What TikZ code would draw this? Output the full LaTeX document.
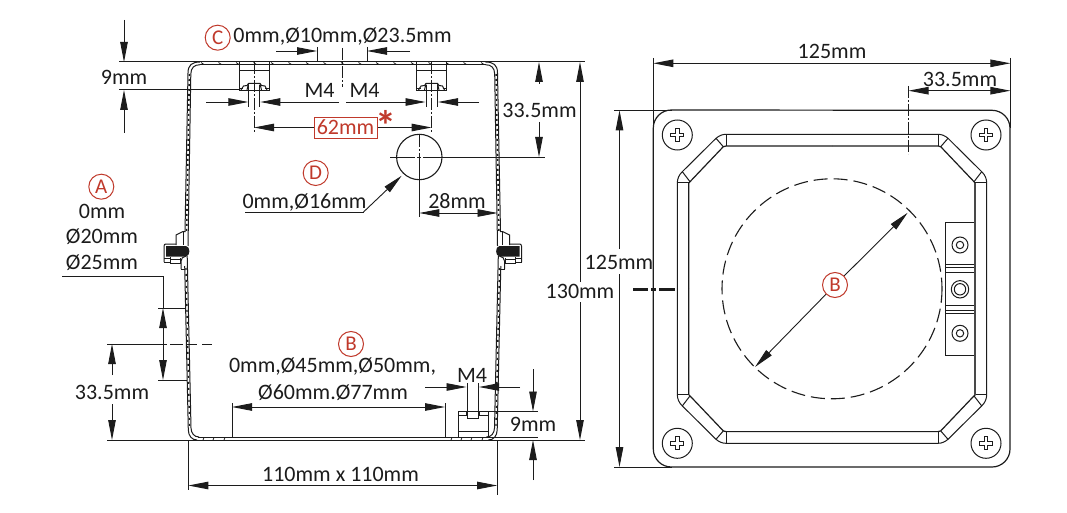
\documentclass[tikz,border=0pt]{standalone}
\usepackage{fontspec}
\setmainfont{Carlito}
\usetikzlibrary{arrows.meta}
\definecolor{ink}{HTML}{1C1C1C}
\definecolor{redmark}{HTML}{C0392B}
\tikzset{
  ln/.style={draw=ink,line width=1pt},
  thin ln/.style={draw=ink,line width=0.8pt},
  dim/.style={draw=ink,line width=0.9pt,-{Triangle[length=20pt,width=7.5pt,fill=ink]}},
  dimb/.style={draw=ink,line width=0.9pt,{Triangle[length=20pt,width=7.5pt,fill=ink]}-{Triangle[length=20pt,width=7.5pt,fill=ink]}},
  center ln/.style={draw=ink,line width=0.8pt,dash pattern=on 12pt off 2pt on 2pt off 2pt},
  lab/.style={font=\fontsize{22}{26}\selectfont,text=ink,inner sep=0pt},
  redc/.style={circle,draw=redmark,line width=1pt,fill=white,text=redmark,minimum size=25pt,inner sep=0pt,font=\fontsize{21}{24}\selectfont},
  screwhead/.style={circle,draw=ink,line width=1pt,minimum size=30pt,inner sep=0pt},
}
\newcommand{\halfwall}{%
  % upper wall
  \draw[ln] (200,62) .. controls (192,62) and (188,65) .. (188,73) -- (185,232);
  \draw[ln] (200,64.7) .. controls (194,64.7) and (191,68) .. (190.8,74) -- (188,246);
  \draw[draw=ink,line width=1.6pt,dash pattern=on 2pt off 3pt] (189.4,74) -- (186.6,232);
  % lower wall
  \draw[ln] (184.7,266) -- (188.3,430) .. controls (188.5,436) and (192,440) .. (197,440);
  \draw[ln] (187.2,256) -- (191,428) .. controls (191.2,433) and (194,437) .. (199,437);
  \draw[draw=ink,line width=1.4pt,dash pattern=on 2pt off 4pt] (186,268) -- (189.6,428);
  % clamp
  \draw[ln] (176,245) -- (176,235) -- (183,231.5) -- (185,231.5);
  \draw[ln] (183,231.5) -- (183,245);
  \draw[ln] (164,262) -- (164,246) .. controls (164,244.5) and (165,244) .. (166,244) -- (176,244);
  \fill[ink] (166,246) -- (186,246) .. controls (190.5,246.5) and (190.5,256) .. (186,256.5) -- (166,256.5) -- cycle;
  \draw[ln] (164,258) -- (170,258) (164,262) -- (170,262);
  \draw[ln] (170,257) -- (170,263.5) -- (180.5,263.5) -- (180.5,258) (170,259.5) -- (180.5,259.5);
  \draw[ln] (181,269) -- (181,261) .. controls (181,258) and (183,257) .. (186,256);
  \draw[ln] (181,269) -- (184.7,269);
}
\newcommand{\topinsert}{%
  \draw[thin ln] (239.3,62) -- (239.3,90) -- (269,90) -- (269,62);
  \draw[thin ln] (239.3,70) -- (269,70);
  \draw[ln] (241,90) -- (243.5,86) -- (247,85.5) -- (248.5,83.5) -- (260,83.5) -- (261.5,85.5) -- (265,86) -- (267,90);
  \draw[ln] (248.5,83.5) -- (247,90) (260,83.5) -- (261.5,90);
  \draw[ln] (239.3,88.5) -- (243,88.5) (265,88.5) -- (269,88.5);
}
\begin{document}
\begin{tikzpicture}[x=1pt,y=-1pt]
\useasboundingbox (0,0) rectangle (1067,513);
\fill[white] (0,0) rectangle (1067,513);

%% ---------- side view ----------
\draw[ln] (119,62) -- (585,62);
\draw[ln] (107,440) -- (585,440);
\draw[ln] (198,437) -- (538,437);
\halfwall
\begin{scope}[shift={(685.5,0)},xscale=-1]\halfwall\end{scope}
\draw[ln] (200,64.7) -- (485.5,64.7);
\foreach \i in {201,218.5,...,490} {\draw[thin ln] (\i,62.5) -- (\i+3,64.5);}
\foreach \i in {204,214,225,452,462,472,483} {\draw[thin ln] (\i,437.5) -- (\i-1,440);}

% top inserts
\topinsert
\begin{scope}[xshift=177.5pt]\topinsert\end{scope}
% bottom insert
\draw[thin ln] (458,437) -- (458,411) -- (488,411) -- (488,437);
\draw[thin ln] (458,431) -- (488,431);
\draw[ln] (458,415) -- (466,415) -- (466,411) (467,411) -- (467,418) -- (478,418) -- (478,411) (479,411) -- (479,415) -- (488,415);

% 9mm top
\draw[ln] (119,90) -- (240,90);
\draw[dim] (124,20) -- (124,62);
\draw[dim] (124,133) -- (124,90);
\node[lab] (t9a) at (124,77) {9mm};

% C
\node[redc] (labC) at (217.7,37.7) {C};
\node[lab] (tC) at (342.5,36.5) {0mm,Ø10mm,Ø23.5mm};
\draw[thin ln] (317,47) -- (317,62) (367,47) -- (367,62);
\draw[dim] (276,51) -- (317,51);
\draw[dim] (410,51) -- (367,51);
\draw[center ln] (342.7,48) -- (342.7,87);

% M4 top
\node[lab] (tM1) at (319.5,90) {M4};
\node[lab] (tM2) at (364.5,90) {M4};
\draw[center ln] (254,62) -- (254,132);
\draw[center ln] (431.6,62) -- (431.6,132);
\draw[thin ln] (248.7,85) -- (248.7,107) (259.7,85) -- (259.7,107);
\draw[thin ln] (426,85) -- (426,107) (437.3,85) -- (437.3,107);
\draw[dim] (206,102) -- (248.3,102);
\draw[dim] (339,102) -- (260.3,102);
\draw[dim] (346,102) -- (425.5,102);
\draw[dim] (479,102) -- (438,102);

% 62mm
\node[lab,draw=redmark,line width=0.8pt,text=redmark,minimum width=63pt,minimum height=21pt] (t62) at (345.5,127.5) {62mm};
\node[text=redmark,inner sep=0pt,font=\fontsize{42}{42}\selectfont\bfseries] (star) at (386,125) {*};
\draw[dim] (t62.west) -- (254,127.5);
\draw[dim] (378,127.5) -- (431.6,127.5);

% hole D
\node[circle,draw=ink,line width=1.1pt,minimum size=45.4pt,inner sep=0pt] (hole) at (419.3,157) {};
\draw[center ln] (419.3,135) -- (419.3,165);
\draw[thin ln] (419.3,160) -- (419.3,217);
\draw[thin ln] (390,157) -- (415,157) (417,157) -- (421,157) (423,157) -- (545,157);
\node[redc] (labD) at (315.7,173) {D};
\node[lab] (tD) at (304.5,202) {0mm,Ø16mm};
\coordinate (leadA) at (245,212);
\coordinate (leadB) at (363.5,212);
\draw[thin ln] (leadA) -- (leadB);
\draw[dim] (leadB) -- (401.7,175.7);
\node[lab] (t28) at (457,201.5) {28mm};
\draw[dimb] (419.3,213) -- (497.5,213);
% 33.5 right
\node[lab] (t335r) at (539.5,110) {33.5mm};
\draw[dim] (539,84) -- (539,62);
\draw[dim] (539,122) -- (539,157);
% 130
\node[lab] (t130) at (580,291) {130mm};
\draw[dim] (580,282) -- (580,62);
\draw[dim] (580,302) -- (580,440);

% A
\node[redc] (labA) at (101.3,186.7) {A};
\node[lab] (tA1) at (102,211) {0mm};
\node[lab] (tA2) at (102,236.5) {Ø20mm};
\node[lab] (tA3) at (102,262.5) {Ø25mm};
\draw[thin ln] (62,276) -- (163,276) -- (163,308);
\draw[thin ln] (158,308) -- (185,308) (158,380) -- (186.5,380);
\draw[dim] (163,344) -- (163,308);
\draw[dim] (163,344) -- (163,380);
\draw[thin ln] (107,344) -- (167,344);
\draw[thin ln,dash pattern=on 13pt off 4pt on 10pt off 5pt on 20pt] (170,344) -- (212,344);
\node[lab] (t335l) at (112,392) {33.5mm};
\draw[dim] (112,375) -- (112,344);
\draw[dim] (112,404) -- (112,440);

% B side
\node[redc] (labB) at (351,344) {B};
\node[lab] (tB1) at (332.5,367) {0mm,Ø45mm,Ø50mm,};
\node[lab] (tB2) at (333,392.5) {Ø60mm.Ø77mm};
\draw[thin ln] (232,403) -- (232,437) (445,403) -- (445,437);
\draw[dimb] (232,407) -- (445,407);

% M4 bottom + 9mm bottom
\node[lab] (tM3) at (472,375) {M4};
\draw[thin ln] (467,383) -- (467,411) (478.5,383) -- (478.5,411);
\draw[dim] (425,387) -- (466.5,387);
\draw[dim] (520,387) -- (479,387);
\draw[thin ln] (488,411.5) -- (538,411.5);
\node[lab] (t9b) at (533,424) {9mm};
\draw[dim] (533,369) -- (533,411.5);
\draw[dim] (533,480) -- (533,440);

% 110
\draw[thin ln] (188.3,440) -- (188.3,490) (497.2,440) -- (497.2,495);
\node[lab] (t110) at (340.5,474) {110mm x 110mm};
\draw[dimb] (188.3,485.5) -- (497.2,485.5);

%% ---------- plan view ----------
\draw[draw=ink,line width=1.2pt] (653.3,128) arc[start angle=180,end angle=270,radius=18] -- (992,110.3) arc[start angle=270,end angle=360,radius=18] -- (1010,449) arc[start angle=0,end angle=90,radius=18] -- (671.3,467) arc[start angle=90,end angle=180,radius=18] -- cycle;

% extension lines
\draw[thin ln] (614,110.3) -- (672,110.3) (614,467) -- (672,467);
\draw[thin ln] (653.3,58) -- (653.3,128) (1010.4,58) -- (1010.4,128);
\draw[dimb] (653.3,63.3) -- (1010.4,63.3);
\node[lab] (t125t) at (832,51) {125mm};
\node[lab] (t335p) at (960,79) {33.5mm};
\draw[dimb] (908.5,90.7) -- (1010.4,90.7);
\draw[center ln] (908.5,86) -- (908.5,154);
\node[lab] (t125l) at (619,262) {125mm};
\draw[dim] (619.5,249) -- (619.5,110.3);
\draw[dim] (619.5,274) -- (619.5,467);
\draw[draw=ink,line width=2.4pt,dash pattern=on 15pt off 3pt on 5pt off 3pt on 20pt] (633,289.5) -- (675,289.5);

% frame
\def\cx{832} \def\cy{288.8}
\foreach \sx/\sy in {1/1,-1/1,1/-1,-1/-1} {
\begin{scope}[shift={(\cx,\cy)},xscale=\sx,yscale=\sy]
  \draw[ln] (-154.7,0) -- (-154.7,-105.8) .. controls (-154.7,-110) and (-153,-114) .. (-149.7,-117.1) -- (-116,-150.5) .. controls (-113,-153) and (-110,-154.5) .. (-106,-154.5) -- (0,-154.5);
  \draw[draw=ink,line width=1.2pt] (-143.3,0) -- (-143.3,-105.8) -- (-142,-107.1) -- (-108.7,-142.1) -- (-106,-142.8) -- (0,-142.8);
  \draw[ln] (-154.7,-105.8) -- (-143.3,-105.8);
  \draw[ln] (-149.7,-117.1) -- (-142,-107.1);
  \draw[ln] (-116,-150.5) -- (-108.7,-142.1);
  \draw[ln] (-106,-154.5) -- (-106,-142.8);
\end{scope}
}

% screws
\foreach \n/\xx/\yy in {sa/677.3/135,sb/986/135,sc/677.3/443.3,sd/986/443.3} {
  \node[screwhead] (\n) at (\xx,\yy) {};
  \draw[thin ln,fill=white] (\xx-6.5,\yy-1.7) -- (\xx-1.7,\yy-1.7) -- (\xx-1.7,\yy-6.5) -- (\xx+1.7,\yy-6.5) -- (\xx+1.7,\yy-1.7) -- (\xx+6.5,\yy-1.7) -- (\xx+6.5,\yy+1.7) -- (\xx+1.7,\yy+1.7) -- (\xx+1.7,\yy+6.5) -- (\xx-1.7,\yy+6.5) -- (\xx-1.7,\yy+1.7) -- (\xx-6.5,\yy+1.7) -- cycle;
}

% dashed circle
\draw[draw=ink,line width=1.1pt,dash pattern=on 14pt off 6pt] (\cx,\cy) circle[radius=110];

% bracket
\fill[white] (945.3,222.3) rectangle (975,355.7);
\draw[thin ln] (975,222.3) -- (945.3,222.3) -- (945.3,355.7) -- (975,355.7);
\foreach \yy in {264.3,267.7,272.3,305.3,310,313.3} {\draw[thin ln] (945.3,\yy) -- (975,\yy);}
\draw[draw=ink!80,line width=1.5pt] (975,183) -- (975,394.6);
\draw[ln] (960,245) circle[radius=8] (960,245) circle[radius=3.7];
\draw[ln] (960,289.3) circle[radius=8.7] (960,289.3) circle[radius=5.7];
\draw[ln] (960,333.3) circle[radius=8] (960,333.3) circle[radius=3.7];

% B arrow
\coordinate (dia) at (835,285);
\draw[dim] (dia) -- (907.7,212.7);
\draw[dim] (dia) -- (755,367);
\node[redc] (labBp) at (dia) {B};
\end{tikzpicture}
\end{document}
